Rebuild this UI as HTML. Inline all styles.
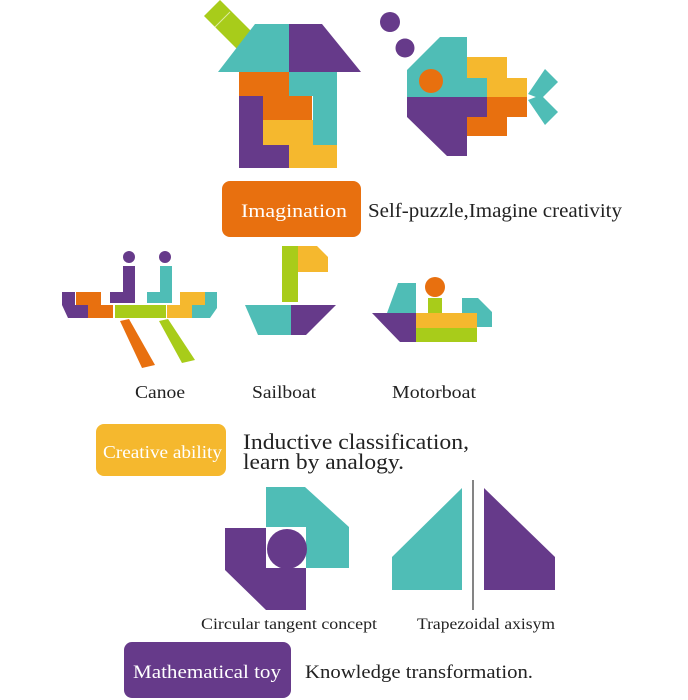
<!DOCTYPE html>
<html><head><meta charset="utf-8"><style>
html,body{margin:0;padding:0;background:#fff;width:688px;height:700px;overflow:hidden}
text{font-family:"Liberation Serif",serif;fill:#222}
.w{fill:#fff}
</style></head><body>
<svg width="688" height="700" viewBox="0 0 688 700" xmlns="http://www.w3.org/2000/svg">
<g>
<!-- house -->
<polygon points="204,16 220,0 256,36 240,52" fill="#a8cc1a"/>
<line x1="214" y1="28" x2="230" y2="12" stroke="#fff" stroke-width="1" opacity="0.6"/>
<polygon points="218,72 255,24 289,24 289,72" fill="#4fbdb6"/>
<polygon points="289,24 322,24 361,72 289,72" fill="#663a8a"/>
<polygon points="239,72 289,72 289,96 312,96 312,120 263,120 263,96 239,96" fill="#e8700f"/>
<polygon points="289,72 337,72 337,145 313,145 313,96 289,96" fill="#4fbdb6"/>
<polygon points="239,96 263,96 263,145 289,145 289,168 239,168" fill="#663a8a"/>
<polygon points="263,120 313,120 313,145 337,145 337,168 289,168 289,145 263,145" fill="#f5b82e"/>
<!-- fish -->
<circle cx="390" cy="22" r="10" fill="#663a8a"/>
<circle cx="405" cy="48" r="9.5" fill="#663a8a"/>
<polygon points="407,70 440,37 467,37 467,78 487,78 487,97 407,97" fill="#4fbdb6"/>
<polygon points="467,57 507,57 507,78 527,78 527,97 487,97 487,78 467,78" fill="#f5b82e"/>
<polygon points="407,97 487,97 487,117 467,117 467,156 447,156 407,117" fill="#663a8a"/>
<polygon points="487,97 527,97 527,117 507,117 507,136 467,136 467,117 487,117" fill="#e8700f"/>
<circle cx="431" cy="81" r="12" fill="#e8700f"/>
<polygon points="528,94 545,69 558,82 541,99" fill="#4fbdb6"/>
<polygon points="528,100 541,95 558,112 545,125" fill="#4fbdb6"/>
<!-- imagination -->
<rect x="222" y="181" width="139" height="56" rx="8" fill="#e8700f"/>
<text x="241" y="217" class="w" font-size="19" textLength="106" lengthAdjust="spacingAndGlyphs">Imagination</text>
<text x="368" y="217" font-size="20" textLength="254" lengthAdjust="spacingAndGlyphs">Self-puzzle,Imagine creativity</text>
<!-- canoe -->
<polygon points="62,292 75,292 75,305 88,305 88,318 68,318 62,305" fill="#663a8a"/>
<polygon points="76,292 101,292 101,305 113,305 113,318 88,318 88,305 76,305" fill="#e8700f"/>
<rect x="115" y="305" width="51" height="13" fill="#a8cc1a"/>
<polygon points="167,305 180,305 180,292 205,292 205,305 192,305 192,318 167,318" fill="#f5b82e"/>
<polygon points="192,305 205,305 205,292 217,292 217,308 210,318 192,318" fill="#4fbdb6"/>
<polygon points="110,292 123,292 123,266 135,266 135,303 110,303" fill="#663a8a"/>
<circle cx="129" cy="257" r="6" fill="#663a8a"/>
<polygon points="147,292 160,292 160,266 172,266 172,303 147,303" fill="#4fbdb6"/>
<circle cx="165" cy="257" r="6" fill="#663a8a"/>
<polygon points="120,321 129,319 155,365 142,368" fill="#e8700f"/>
<polygon points="159,321 168,319 195,360 182,363" fill="#a8cc1a"/>
<!-- sailboat -->
<rect x="282" y="246" width="16" height="56" fill="#a8cc1a"/>
<polygon points="298,246 317,246 328,257 328,272 298,272" fill="#f5b82e"/>
<polygon points="245,305 291,305 291,335 258,335" fill="#4fbdb6"/>
<polygon points="291,305 336,305 306,335 291,335" fill="#663a8a"/>
<!-- motorboat -->
<polygon points="387,313 398,283 416,283 416,313" fill="#4fbdb6"/>
<circle cx="435" cy="287" r="10" fill="#e8700f"/>
<rect x="428" y="298" width="14" height="15" fill="#a8cc1a"/>
<polygon points="462,298 478,298 492,312 492,327 477,327 477,313 462,313" fill="#4fbdb6"/>
<polygon points="372,313 416,313 416,342 400,342" fill="#663a8a"/>
<rect x="416" y="313" width="61" height="15" fill="#f5b82e"/>
<rect x="416" y="328" width="61" height="14" fill="#a8cc1a"/>
<text x="135" y="398" font-size="18" textLength="50" lengthAdjust="spacingAndGlyphs">Canoe</text>
<text x="252" y="398" font-size="18" textLength="64" lengthAdjust="spacingAndGlyphs">Sailboat</text>
<text x="392" y="398" font-size="18" textLength="84" lengthAdjust="spacingAndGlyphs">Motorboat</text>
<!-- creative -->
<rect x="96" y="424" width="130" height="52" rx="8" fill="#f5b82e"/>
<text x="103" y="458" class="w" font-size="18" textLength="119" lengthAdjust="spacingAndGlyphs">Creative ability</text>
<text x="243" y="449" font-size="22" textLength="226" lengthAdjust="spacingAndGlyphs">Inductive classification,</text>
<text x="243" y="469" font-size="22" textLength="161" lengthAdjust="spacingAndGlyphs">learn by analogy.</text>
<!-- circle concept -->
<polygon points="266,487 305,487 349,527 349,568 306,568 306,527 266,527" fill="#4fbdb6"/>
<polygon points="225,528 266,528 266,568 306,568 306,610 266,610 225,570" fill="#663a8a"/>
<circle cx="287" cy="549" r="20" fill="#663a8a"/>
<!-- trapezoid -->
<polygon points="392,557 462,488 462,590 392,590" fill="#4fbdb6"/>
<line x1="473" y1="480" x2="473" y2="610" stroke="#333" stroke-width="1.2"/>
<polygon points="484,488 555,557 555,590 484,590" fill="#663a8a"/>
<text x="201" y="629" font-size="16" textLength="176" lengthAdjust="spacingAndGlyphs">Circular tangent concept</text>
<text x="417" y="629" font-size="16" textLength="138" lengthAdjust="spacingAndGlyphs">Trapezoidal axisym</text>
<!-- math -->
<rect x="124" y="642" width="167" height="56" rx="8" fill="#663a8a"/>
<text x="133" y="678" class="w" font-size="19" textLength="148" lengthAdjust="spacingAndGlyphs">Mathematical toy</text>
<text x="305" y="678" font-size="19" textLength="228" lengthAdjust="spacingAndGlyphs">Knowledge transformation.</text>
</g>
</svg>
</body></html>
